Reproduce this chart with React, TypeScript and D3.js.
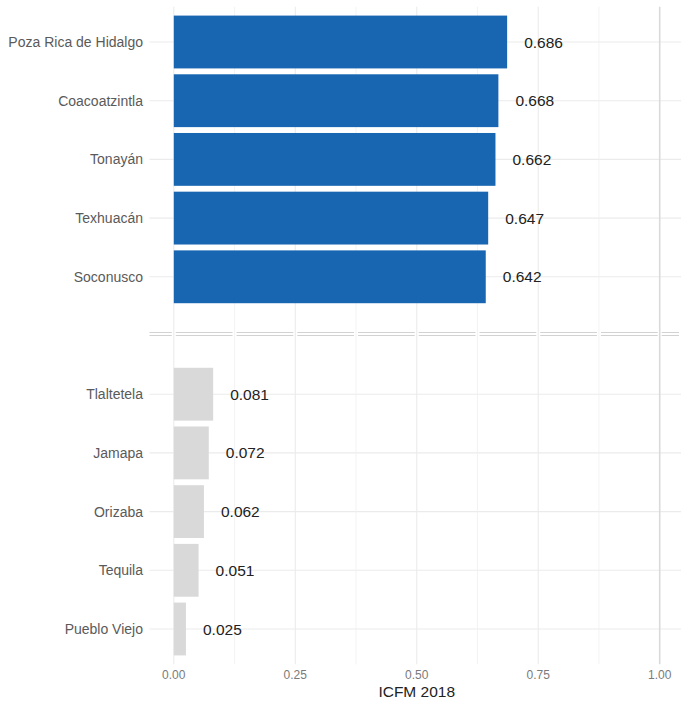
import React from "react";
import * as d3 from "d3";

const topNames = ["Poza Rica de Hidalgo", "Coacoatzintla", "Tonayán", "Texhuacán", "Soconusco"];
const topValues = [0.686, 0.668, 0.662, 0.647, 0.642];
const bottomNames = ["Tlaltetela", "Jamapa", "Orizaba", "Tequila", "Pueblo Viejo"];
const bottomValues = [0.081, 0.072, 0.062, 0.051, 0.025];
const xTicks = [0, 0.25, 0.5, 0.75, 1];
const xMinor = [0.125, 0.375, 0.625, 0.875];
const GAP = "__gap__";

const W = 681;
const H = 704;

export default function App() {
  const cats = [...topNames, GAP, ...bottomNames];
  const rows = [
    ...topNames.map((n, i) => ({ name: n, value: topValues[i], group: "top" })),
    ...bottomNames.map((n, i) => ({ name: n, value: bottomValues[i], group: "bottom" })),
  ];
  const x = d3.scaleLinear().domain([-0.05, 1.05]).range([149.5, 684]);
  const y = d3.scalePoint<string>().domain(cats).range([42, 629]);
  const step = y.step();
  const yc = (c: string) => y(c) as number;
  const panelTop = 42 - 0.6 * step;
  const panelBottom = 629 + 0.6 * step;
  const barH = step * 0.9;
  const gapY = yc(GAP) - 1.5;
  const allV = [...xMinor, ...xTicks].sort((a, b) => a - b);
  const segBounds = [x(-0.05), ...allV.map((v) => x(v)), W];
  const fontFam = "'Liberation Sans', Arial, sans-serif";

  return (
    <svg width={W} height={H} style={{ position: "absolute", left: 0, top: 0, background: "#fff" }} fontFamily={fontFam}>
      {cats.filter((c) => c !== GAP).map((c) => (
        <line key={"h" + c} x1={x(-0.05)} x2={W} y1={yc(c)} y2={yc(c)} stroke="#ebebeb" strokeWidth={1.1} />
      ))}
      {segBounds.slice(0, -1).map((s, i) => {
        const e = segBounds[i + 1];
        const a = i === 0 ? s : s + 2;
        const b = e - 2;
        return (
          <g key={"sep" + i}>
            <line x1={a} x2={b} y1={gapY - 1.5} y2={gapY - 1.5} stroke="#d2d2d2" strokeWidth={1} />
            <line x1={a} x2={b} y1={gapY + 1.5} y2={gapY + 1.5} stroke="#d2d2d2" strokeWidth={1} />
          </g>
        );
      })}
      {xMinor.map((v) => (
        <line key={"mi" + v} x1={x(v)} x2={x(v)} y1={panelTop} y2={panelBottom} stroke="#f0f0f0" strokeWidth={0.8} />
      ))}
      {xTicks.map((v) => (
        <line key={"ma" + v} x1={x(v)} x2={x(v)} y1={panelTop} y2={panelBottom} stroke={v === 1 ? "#dadada" : "#ebebeb"} strokeWidth={v === 1 ? 1.6 : 1.1} />
      ))}
      {rows.map((r) => (
        <rect
          key={"b" + r.name}
          x={x(0)}
          width={x(r.value) - x(0)}
          y={yc(r.name) - barH / 2}
          height={barH}
          fill={r.group === "top" ? "#1866b1" : "#d9d9d9"}
        />
      ))}
      {rows.map((r) => (
        <text
          key={"v" + r.name}
          x={x(r.value + 0.075)}
          y={yc(r.name)}
          dy="0.36em"
          textAnchor="middle"
          fontSize={15.5}
          fill="#222"
        >
          {r.value.toFixed(3)}
        </text>
      ))}
      {cats.filter((c) => c !== GAP).map((c) => (
        <text key={"y" + c} x={143} y={yc(c)} dy="0.36em" textAnchor="end" fontSize={14} fill="#5a5a5a">
          {c}
        </text>
      ))}
      {xTicks.map((v) => (
        <text key={"xt" + v} x={x(v)} y={675} dy="0.36em" textAnchor="middle" fontSize={12} fill="#7a7a7a">
          {v.toFixed(2)}
        </text>
      ))}
      <text x={(x(-0.05) + x(1.05)) / 2} y={691} dy="0.36em" textAnchor="middle" fontSize={15.5} fill="#222">
        ICFM 2018
      </text>
    </svg>
  );
}
